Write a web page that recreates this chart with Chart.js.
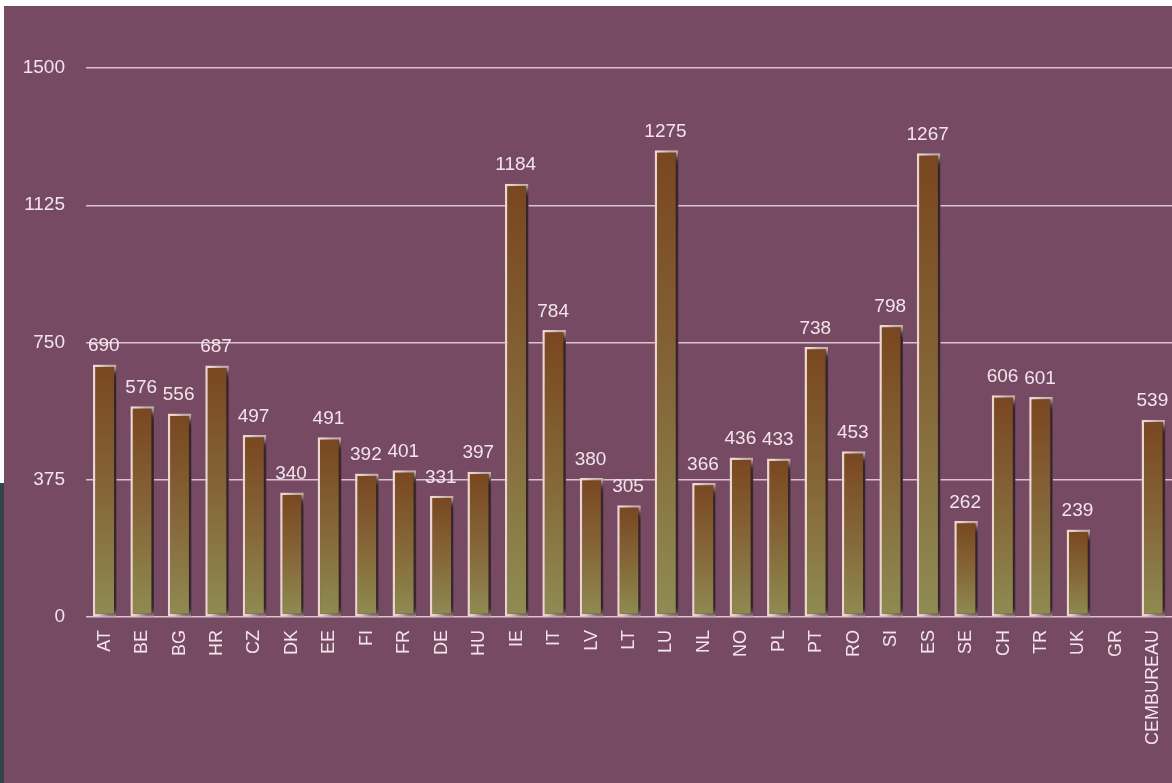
<!DOCTYPE html>
<html>
<head>
<meta charset="utf-8">
<script src="https://cdn.jsdelivr.net/npm/chart.js@4"></script>
<style>
  html, body { margin: 0; padding: 0; background: #ffffff; overflow: hidden; width: 1172px; height: 783px; }
  #wrap { position: absolute; left: 0; top: 0; width: 1172px; height: 783px; background: #774a64; overflow: hidden; }
  #chart { position: absolute; left: 0; top: 0; }
  #stripTop { position: absolute; left: 0; top: 0; width: 1172px; height: 6px; background: #ffffff; }
  #stripLeft { position: absolute; left: 0; top: 0; width: 4px; height: 483px; background: #ffffff; }
  #slate { position: absolute; left: 0; top: 483px; width: 4px; height: 300px; background: #33434c; }
</style>
</head>
<body>
<div id="wrap"><canvas id="chart" width="1180" height="783"></canvas></div>
<div id="stripTop"></div>
<div id="stripLeft"></div>
<div id="slate"></div>
<script>
const categories = ['AT', 'BE', 'BG', 'HR', 'CZ', 'DK', 'EE', 'FI', 'FR', 'DE', 'HU', 'IE', 'IT', 'LV', 'LT',
    'LU', 'NL', 'NO', 'PL', 'PT', 'RO', 'SI', 'ES', 'SE', 'CH', 'TR', 'UK', 'GR', 'CEMBUREAU'];
const values = [690, 576, 556, 687, 497, 340, 491, 392, 401, 331, 397, 1184, 784, 380, 305,
    1275, 366, 436, 433, 738, 453, 798, 1267, 262, 606, 601, 239, null, 539];
const yTicks = [0, 375, 750, 1125, 1500];

const textColor = '#f3e4ec';
const fontFamily = '"Liberation Sans", Arial, sans-serif';
const labelFont = { family: fontFamily, size: 18 };
const numberFont = { family: fontFamily, size: 19 };

// degradado de cada barra: marrón arriba, oliva abajo
function barGradient(ctx) {
    const chart = ctx.chart;
    if (!chart.chartArea || ctx.raw == null) return '#85683e';
    const y = chart.scales.y;
    const top = y.getPixelForValue(ctx.raw);
    const bot = y.getPixelForValue(0);
    const g = chart.ctx.createLinearGradient(0, top, 0, bot);
    g.addColorStop(0, '#794620');
    g.addColorStop(0.55, '#86693a');
    g.addColorStop(1, '#8f8c52');
    return g;
}

const shadowPlugin = {
    id: 'barShadow',
    beforeDatasetsDraw(chart) {
        const c = chart.ctx;
        c.save();
        c.shadowColor = 'rgba(25, 5, 18, 0.9)';
        c.shadowBlur = 9;
        c.shadowOffsetX = 8;
        c.shadowOffsetY = 2;
    },
    afterDatasetsDraw(chart) {
        chart.ctx.restore();
    }
};

const valueLabels = {
    id: 'valueLabels',
    afterDatasetsDraw(chart) {
        const c = chart.ctx;
        const meta = chart.getDatasetMeta(0);
        c.save();
        c.fillStyle = textColor;
        c.font = numberFont.size + 'px ' + numberFont.family;
        c.textAlign = 'center';
        c.textBaseline = 'bottom';
        meta.data.forEach((bar, i) => {
            if (values[i] == null) return;
            c.fillText(String(values[i]), bar.x - 1, bar.y - 9);
        });
        c.restore();
    }
};

new Chart(document.getElementById('chart').getContext('2d'), {
    type: 'bar',
    data: {
        labels: categories,
        datasets: [{
            data: values,
            backgroundColor: barGradient,
            borderColor: '#ecd8cc',
            borderWidth: 2.5,
            borderSkipped: false,
            barPercentage: 0.63,
            categoryPercentage: 1
        }]
    },
    options: {
        responsive: false,
        animation: false,
        layout: { padding: { left: 0, right: 3, top: 68, bottom: 0 } },
        plugins: { legend: { display: false }, tooltip: { enabled: false } },
        scales: {
            x: {
                grid: { display: false },
                border: { display: false },
                ticks: { color: textColor, font: labelFont, minRotation: 90, maxRotation: 90, padding: 5, autoSkip: false },
                afterFit(scale) { scale.height = 166; }
            },
            y: {
                min: 0,
                max: 1500,
                grid: { color: 'rgba(232, 208, 222, 0.9)', lineWidth: 1.5, drawTicks: false },
                border: { display: false },
                ticks: { color: textColor, font: numberFont, padding: 21, callback: v => String(v) },
                afterBuildTicks(scale) { scale.ticks = yTicks.map(v => ({ value: v })); },
                afterFit(scale) { scale.width = 86; }
            }
        }
    },
    plugins: [shadowPlugin, valueLabels]
});
</script>
</body>
</html>
